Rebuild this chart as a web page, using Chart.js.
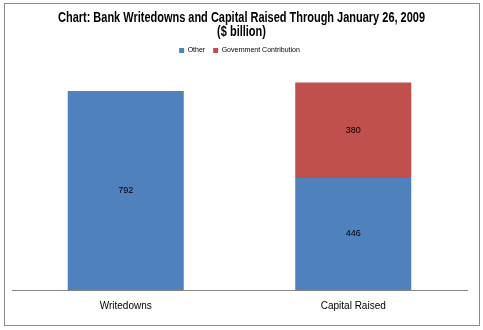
<!DOCTYPE html>
<html>
<head>
<meta charset="utf-8">
<script src="https://cdn.jsdelivr.net/npm/chart.js@4/dist/chart.umd.min.js"></script>
<style>
  html, body { margin: 0; padding: 0; background: #fff; }
  #wrap { position: relative; width: 483px; height: 330px; }
</style>
</head>
<body>
<div id="wrap"><canvas id="bankChart"></canvas></div>
<script>
const categories = ["Writedowns", "Capital Raised"];
const otherValues = [792, 446];
const governmentValues = [null, 380];
const titleLines = ["Chart: Bank Writedowns and Capital Raised Through January 26, 2009", "($ billion)"];

// frame around the whole chart plus a condensed two-line title
const framePlugin = {
  id: "frame",
  beforeDraw(chart) {
    const ctx = chart.ctx;
    ctx.save();
    ctx.fillStyle = "#fff";
    ctx.fillRect(0, 0, chart.width, chart.height);
    ctx.strokeStyle = "#8c8c8c";
    ctx.lineWidth = 1;
    ctx.strokeRect(4.5, 3.5, 475, 322);

    ctx.font = "bold 14px 'Liberation Sans', Arial, sans-serif";
    ctx.fillStyle = "#000";
    ctx.textAlign = "center";
    ctx.textBaseline = "middle";
    const squeeze = 367 / ctx.measureText(titleLines[0]).width;
    ctx.translate(241.5, 0);
    ctx.scale(squeeze, 1);
    ctx.fillText(titleLines[0], 0, 18);
    ctx.fillText(titleLines[1], 0, 32.5);
    ctx.restore();
  },
};

// value labels in the middle of each segment
const valueLabels = {
  id: "valueLabels",
  afterDatasetsDraw(chart) {
    const ctx = chart.ctx;
    ctx.save();
    ctx.font = "9px 'Liberation Sans', Arial, sans-serif";
    ctx.fillStyle = "#000";
    ctx.textAlign = "center";
    ctx.textBaseline = "middle";
    chart.data.datasets.forEach((ds, i) => {
      chart.getDatasetMeta(i).data.forEach((bar, j) => {
        const v = ds.data[j];
        if (v == null) return;
        ctx.fillText(String(v), bar.x, (bar.y + bar.base) / 2);
      });
    });
    ctx.restore();
  },
};

new Chart(document.getElementById("bankChart"), {
  type: "bar",
  data: {
    labels: categories,
    datasets: [
      {
        label: "Other",
        data: otherValues,
        backgroundColor: "#4f81bd",
        barPercentage: 0.51,
        categoryPercentage: 1,
      },
      {
        label: "Government Contribution",
        data: governmentValues,
        backgroundColor: "#c0504d",
        barPercentage: 0.51,
        categoryPercentage: 1,
      },
    ],
  },
  options: {
    responsive: true,
    maintainAspectRatio: false,
    animation: false,
    layout: { padding: { left: 12, right: 16, top: 39, bottom: 16 } },
    plugins: {
      title: { display: false },
      legend: {
        labels: {
          boxWidth: 5,
          boxHeight: 5,
          padding: 8,
          color: "#000",
          font: { family: "'Liberation Sans', Arial, sans-serif", size: 7 },
        },
      },
      tooltip: { enabled: false },
    },
    scales: {
      x: {
        stacked: true,
        grid: { display: false },
        border: { display: true, color: "#868686" },
        ticks: {
          color: "#000",
          padding: 2,
          font: { family: "'Liberation Sans', Arial, sans-serif", size: 10 },
        },
      },
      y: {
        stacked: true,
        min: 0,
        max: 900,
        display: false,
      },
    },
  },
  plugins: [framePlugin, valueLabels],
});
</script>
</body>
</html>
